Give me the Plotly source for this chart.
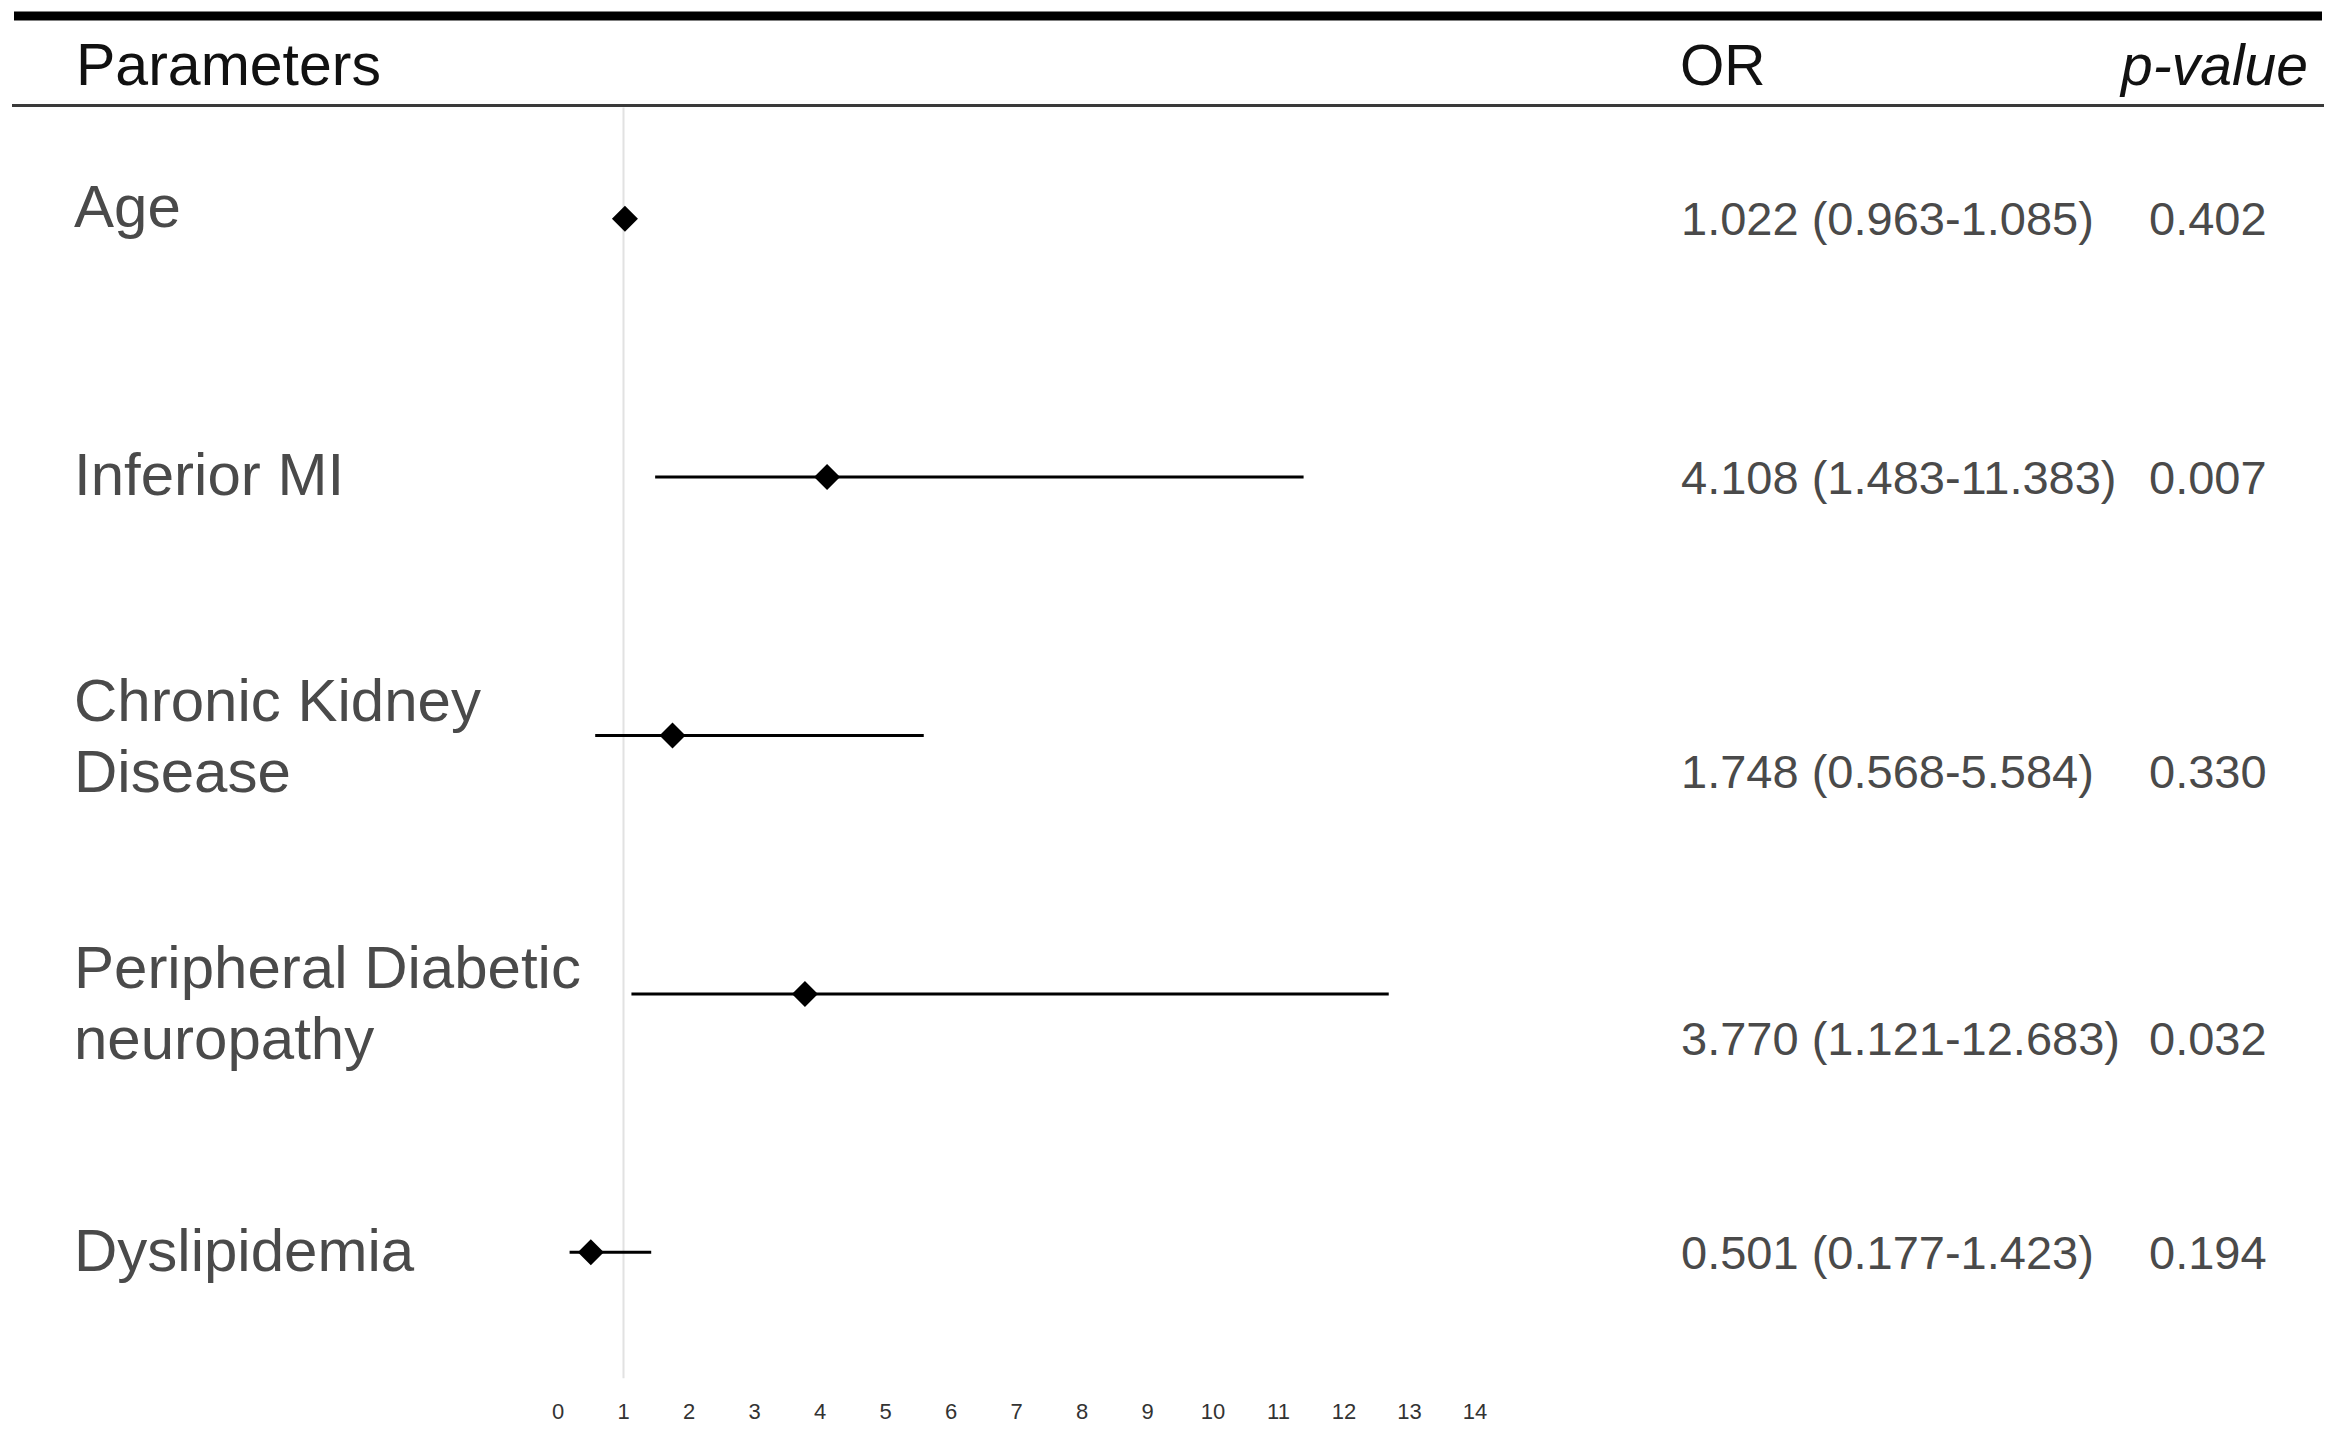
import plotly.graph_objects as go

# ---- data ----
parameters = ["Age", "Inferior MI", "Chronic Kidney<br>Disease",
              "Peripheral Diabetic<br>neuropathy", "Dyslipidemia"]
odds_ratio = [1.022, 4.108, 1.748, 3.770, 0.501]
ci_lower = [0.963, 1.483, 0.568, 1.121, 0.177]
ci_upper = [1.085, 11.383, 5.584, 12.683, 1.423]
p_values = ["0.402", "0.007", "0.330", "0.032", "0.194"]
x_ticks = list(range(0, 15))

# ---- styling ----
PAGE_OFF = 8  # default body margin of the html page
W, H = 2333 - 2 * PAGE_OFF, 1432 - 2 * PAGE_OFF
FONT = "Liberation Sans, Arial, Helvetica, sans-serif"
TEXT_GREY = "#4a4a4a"
LINE_GAP = 71  # px between lines of a wrapped label
# small vertical nudges (px, positive = down) of row labels relative to their row
label_nudge_px = {"Age": -12, "Inferior MI": -3, "Chronic Kidney<br>Disease": 0,
                  "Peripheral Diabetic<br>neuropathy": 9, "Dyslipidemia": -2}

def px_x(p):
    return (p - PAGE_OFF) / W

def px_y(p):
    return 1 - (p - PAGE_OFF) / H

rows = list(range(len(parameters)))

fig = go.Figure()
fig.add_trace(go.Scatter(
    x=odds_ratio, y=rows, mode="markers",
    marker=dict(symbol="diamond", size=20, color="black"),
    error_x=dict(type="data", symmetric=False,
                 array=[u - o for u, o in zip(ci_upper, odds_ratio)],
                 arrayminus=[o - l for o, l in zip(odds_ratio, ci_lower)],
                 thickness=3, width=0, color="black"),
    showlegend=False, hoverinfo="skip",
))

annotations = []
# header
annotations.append(dict(text="Parameters", x=px_x(74), y=px_y(66), xref="paper", yref="paper",
                        xanchor="left", yanchor="middle", showarrow=False,
                        font=dict(family=FONT, size=59, color="#111111")))
annotations.append(dict(text="OR", x=px_x(1678), y=px_y(66), xref="paper", yref="paper",
                        xanchor="left", yanchor="middle", showarrow=False,
                        font=dict(family=FONT, size=57, color="#111111")))
annotations.append(dict(text="<i>p-value</i>", x=px_x(2310), y=px_y(66), xref="paper", yref="paper",
                        xanchor="right", yanchor="middle", showarrow=False,
                        font=dict(family=FONT, size=57, color="#111111")))

for i, (lab, o, lo, hi, p) in enumerate(zip(parameters, odds_ratio, ci_lower, ci_upper, p_values)):
    lines = lab.split("<br>")
    n = len(lines)
    nudge = label_nudge_px.get(lab, 0)
    offsets = [nudge + (k - (n - 1) / 2) * LINE_GAP for k in range(n)]
    for line, off in zip(lines, offsets):
        annotations.append(dict(text=line, x=px_x(72), y=i, xref="paper", yref="y",
                                xanchor="left", yanchor="middle", align="left",
                                yshift=-off, showarrow=False,
                                font=dict(family=FONT, size=60, color=TEXT_GREY)))
    shift = -offsets[-1] if n > 1 else 0
    annotations.append(dict(text=f"{o:.3f} ({lo:.3f}-{hi:.3f})", x=px_x(1679), y=i,
                            xref="paper", yref="y", xanchor="left", yanchor="middle",
                            yshift=shift, showarrow=False,
                            font=dict(family=FONT, size=47, color=TEXT_GREY)))
    annotations.append(dict(text=p, x=px_x(2147), y=i,
                            xref="paper", yref="y", xanchor="left", yanchor="middle",
                            yshift=shift, showarrow=False,
                            font=dict(family=FONT, size=47, color=TEXT_GREY)))

shapes = [
    # thick top rule
    dict(type="line", xref="paper", yref="paper", x0=px_x(14), x1=px_x(2322),
         y0=px_y(16), y1=px_y(16), line=dict(color="black", width=9)),
    # header rule
    dict(type="line", xref="paper", yref="paper", x0=px_x(12), x1=px_x(2324),
         y0=px_y(107), y1=px_y(107), line=dict(color="#3a3a3a", width=3)),
    # reference line at OR = 1
    dict(type="line", xref="x", yref="paper", x0=1, x1=1,
         y0=px_y(1400), y1=px_y(109), line=dict(color="#e2e2e2", width=2), layer="below"),
]

fig.update_layout(
    width=W, height=H, autosize=False,
    margin=dict(l=0, r=0, t=0, b=0),
    paper_bgcolor="white", plot_bgcolor="white",
    annotations=annotations, shapes=shapes,
    xaxis=dict(domain=[px_x(525.25), px_x(1507.75)], range=[-0.5, 14.5],
               tickmode="array", tickvals=x_ticks, ticktext=[str(t) for t in x_ticks],
               showgrid=False, zeroline=False, showline=False, ticks="",
               tickfont=dict(family=FONT, size=22, color="#333333"),
               ticklabelstandoff=14, fixedrange=True),
    yaxis=dict(domain=[px_y(1403.2), px_y(90.8)], range=[4.5, -0.5],
               showgrid=False, zeroline=False, showline=False, showticklabels=False,
               ticks="", fixedrange=True),
)

fig.write_html("out.html")
